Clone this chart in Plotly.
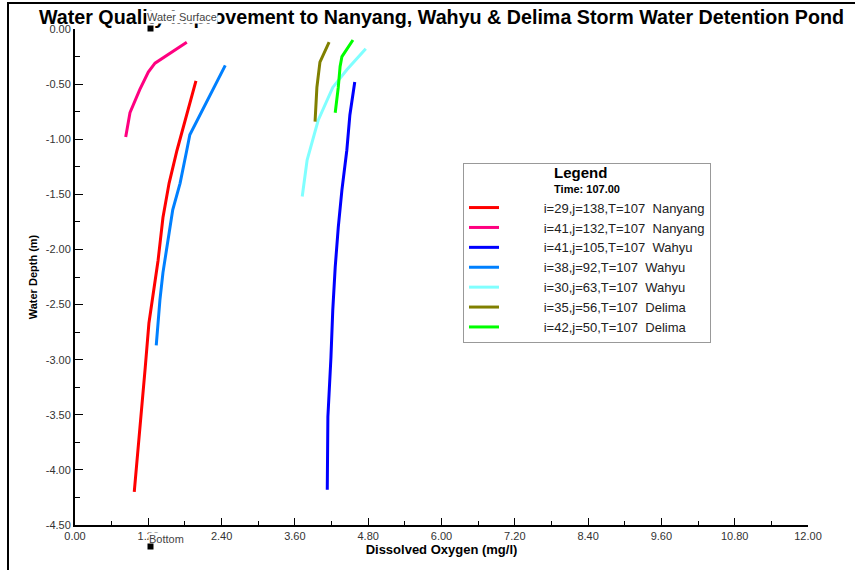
import plotly.graph_objects as go

# ---------------- data ----------------
series_names = [
    "i=29,j=138,T=107  Nanyang",
    "i=41,j=132,T=107  Nanyang",
    "i=41,j=105,T=107  Wahyu",
    "i=38,j=92,T=107  Wahyu",
    "i=30,j=63,T=107  Wahyu",
    "i=35,j=56,T=107  Delima",
    "i=42,j=50,T=107  Delima",
]
series_colors = ["#FF0000", "#FF0080", "#0000FF", "#0080FF", "#80FFFF", "#808000", "#00FF00"]

do_n29 = [1.98, 1.67, 1.54, 1.44, 1.36, 1.28, 1.21, 1.15, 1.08, 1.02, 0.97]
depth_n29 = [-0.47, -1.10, -1.40, -1.71, -2.10, -2.40, -2.67, -3.07, -3.52, -3.91, -4.20]

do_n41 = [1.83, 1.31, 1.20, 1.06, 0.90, 0.83]
depth_n41 = [-0.12, -0.31, -0.39, -0.55, -0.76, -0.98]

do_w41 = [4.58, 4.50, 4.45, 4.37, 4.31, 4.26, 4.22, 4.19, 4.14, 4.13, 4.13]
depth_w41 = [-0.48, -0.78, -1.10, -1.46, -1.80, -2.16, -2.55, -2.98, -3.52, -3.97, -4.18]

do_w38 = [2.46, 1.88, 1.83, 1.72, 1.60, 1.52, 1.44, 1.39, 1.33]
depth_w38 = [-0.33, -0.96, -1.10, -1.40, -1.64, -1.94, -2.21, -2.46, -2.87]

do_w30 = [4.76, 4.45, 4.22, 3.98, 3.80, 3.72]
depth_w30 = [-0.18, -0.37, -0.53, -0.83, -1.19, -1.52]

do_d35 = [4.16, 4.01, 3.96, 3.93]
depth_d35 = [-0.12, -0.30, -0.53, -0.84]

do_d42 = [4.55, 4.37, 4.34, 4.31, 4.26]
depth_d42 = [-0.10, -0.25, -0.34, -0.53, -0.76]

series_x = [do_n29, do_n41, do_w41, do_w38, do_w30, do_d35, do_d42]
series_y = [depth_n29, depth_n41, depth_w41, depth_w38, depth_w30, depth_d35, depth_d42]

x_ticks = [0.0, 1.2, 2.4, 3.6, 4.8, 6.0, 7.2, 8.4, 9.6, 10.8, 12.0]
x_tick_labels = ["0.00", "1.20", "2.40", "3.60", "4.80", "6.00", "7.20", "8.40", "9.60", "10.80", "12.00"]
y_ticks = [0.0, -0.5, -1.0, -1.5, -2.0, -2.5, -3.0, -3.5, -4.0, -4.5]
y_tick_labels = ["0.00", "-0.50", "-1.00", "-1.50", "-2.00", "-2.50", "-3.00", "-3.50", "-4.00", "-4.50"]

# profile location markers (surface / bottom), anchored on the axis ends
marker_labels = ["Water Surface", "Bottom"]
marker_x = [1.23, 1.23]
marker_y = [0.0, -4.5]

FONT = "Arial, Liberation Sans, sans-serif"
NB = "\u00a0"

fig = go.Figure()
for name, col, xs, ys in zip(series_names, series_colors, series_x, series_y):
    fig.add_trace(go.Scatter(
        x=xs, y=ys, mode="lines", name=NB * 11 + name.replace("  ", NB * 2),
        line=dict(color=col, width=3),
    ))

# surface label + marker
fig.add_annotation(
    x=marker_x[0], y=marker_y[0], xref="x", yref="y", text=marker_labels[0], showarrow=False,
    xanchor="left", yanchor="bottom", xshift=-4, yshift=5,
    font=dict(family=FONT, size=11, color="#444"), bgcolor="white", borderpad=0,
)
fig.add_annotation(
    x=marker_x[0], y=marker_y[0], xref="x", yref="y", text=NB, showarrow=False,
    width=5, height=5, bgcolor="black", borderpad=0, font=dict(size=1),
    xanchor="center", yanchor="middle", yshift=1,
)
# bottom label + marker (below the x axis)
fig.add_annotation(
    x=marker_x[1], y=marker_y[1], xref="x", yref="y", text=marker_labels[1], showarrow=False,
    xanchor="left", yanchor="top", xshift=-2, yshift=-7, height=12,
    font=dict(family=FONT, size=11, color="#444"), bgcolor="white", borderpad=0,
)
fig.add_annotation(
    x=marker_x[1], y=marker_y[1], xref="x", yref="y", text=NB, showarrow=False,
    width=5, height=5, bgcolor="black", borderpad=0, font=dict(size=1),
    xanchor="center", yanchor="middle", yshift=-21,
)

fig.update_layout(
    width=855, height=570,
    margin=dict(l=75, r=47, t=29, b=45),
    paper_bgcolor="white", plot_bgcolor="white",
    font=dict(family=FONT, color="#222"),
    title=dict(
        text="<b>Water Quality Improvement to Nanyang, Wahyu & Delima Storm Water Detention Pond</b>",
        x=0.5, xref="paper", xanchor="center", y=1 - 17 / 570, yref="container", yanchor="middle",
        font=dict(family=FONT, size=19.7, color="black"),
    ),
    xaxis=dict(
        range=[0, 12], tickvals=x_ticks, ticktext=x_tick_labels, automargin=False,
        showgrid=False, zeroline=False, showline=True, linecolor="black", linewidth=2,
        ticks="inside", ticklen=7, tickwidth=1, tickcolor="black",
        minor=dict(dtick=0.6, ticks="inside", ticklen=4, tickcolor="black", showgrid=False),
        tickfont=dict(family=FONT, size=11, color="#333"),
        title=dict(text="<b>Dissolved Oxygen (mg/l)</b>", font=dict(family=FONT, size=13, color="black"), standoff=4),
    ),
    yaxis=dict(
        range=[-4.5, 0], tickvals=y_ticks, ticktext=y_tick_labels, automargin=False,
        showgrid=False, zeroline=False, showline=True, linecolor="black", linewidth=2,
        ticks="inside", ticklen=8, tickwidth=1, tickcolor="black",
        minor=dict(dtick=0.25, ticks="inside", ticklen=5, tickcolor="black", showgrid=False),
        tickfont=dict(family=FONT, size=11, color="#333"),
        title=dict(text="<b>Water Depth (m)</b>", font=dict(family=FONT, size=11, color="black"), standoff=6),
    ),
    legend=dict(
        x=(463 - 75) / 733, y=1 - (163 - 29) / 496, xanchor="left", yanchor="top",
        bgcolor="white", bordercolor="#999", borderwidth=1,
        font=dict(family=FONT, size=13, color="#222"),
        title=dict(text="<b><span style='font-size:15px'>Legend</span></b><br><b>Time: 107.00</b>",
                   side="top center", font=dict(family=FONT, size=11, color="black")),
        tracegroupgap=0,
    ),
    shapes=[dict(type="rect", xref="paper", yref="paper",
                 x0=(8 - 75) / 733, x1=1.2, y0=-0.2, y1=1 + (29 - 3) / 496,
                 line=dict(color="black", width=2), fillcolor="rgba(0,0,0,0)", layer="below")],
)

fig.write_html("out.html", config={"displayModeBar": False},
               post_script="document.body.style.margin='0';")
